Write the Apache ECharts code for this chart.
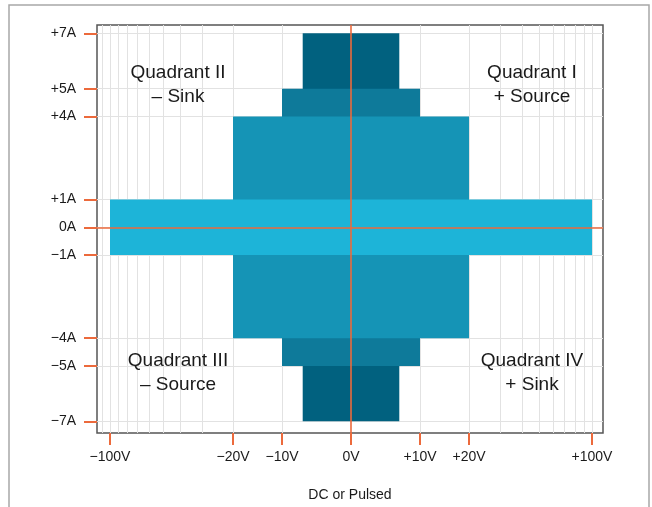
<!DOCTYPE html>
<html><head><meta charset="utf-8">
<script src="https://cdn.jsdelivr.net/npm/echarts@6/dist/echarts.min.js"></script>
<style>html,body{margin:0;padding:0;background:#fff}#c{width:652px;height:507px}</style>
</head><body><div id="c"></div>
<script>
// ---- data ----
const xTickVolts = [-100, -20, -10, 0, 10, 20, 100];
const xTickLabels = ['−100V', '−20V', '−10V', '0V', '+10V', '+20V', '+100V'];
const yTickAmps = [7, 5, 4, 1, 0, -1, -4, -5, -7];
const yTickLabels = ['+7A', '+5A', '+4A', '+1A', '0A', '−1A', '−4A', '−5A', '−7A'];
const xGridVolts = [-110, -100, -90, -80, -70, -60, -50, -40, -30, -20, -10, 10, 20, 30, 40, 50, 60, 70, 80, 90, 100];
const tierVolts = [7, 10, 20, 100];
const tierAmps = [7, 5, 4, 1];
const quadrantTexts = ['Quadrant II\n– Sink', 'Quadrant I\n+ Source', 'Quadrant III\n– Source', 'Quadrant IV\n+ Sink'];

// ---- styles / scale definition ----
const tierColors = ['#01617f', '#0e7a9a', '#1594b6', '#1db4d8'];
const ORANGE = '#ec6a3c';
const GRIDC = '#e2e2e2';
const FONT = '"Liberation Sans", Arial, Helvetica, sans-serif';
// piecewise scale of the voltage axis: linear 0..10 V, logarithmic above
function vpos(v) {
  const s = Math.sign(v), a = Math.abs(v);
  let p;
  if (a <= 10) p = a * 6.9;
  else if (a <= 20) p = 69 + Math.log(a / 10) / Math.log(2) * 49;
  else p = 118 + Math.log(a / 20) / Math.log(5) * 123;
  return s * p;
}
const xTickPos = xTickVolts.map(vpos);
function labelFor(val, pos, labels) {
  for (let i = 0; i < pos.length; i++) if (Math.abs(pos[i] - val) < 0.01) return labels[i];
  return '';
}

const chart = echarts.init(document.getElementById('c'));
chart.setOption({
  animation: false,
  grid: { left: 97, right: 49, top: 25, bottom: 74, show: true, borderColor: '#555', borderWidth: 1.5, containLabel: false },
  xAxis: {
    type: 'value', min: -254, max: 252,
    axisLine: { show: false, onZero: false },
    splitLine: { show: false },
    axisTick: { show: true, customValues: xTickPos, length: 12, lineStyle: { color: ORANGE, width: 2 } },
    axisLabel: { customValues: xTickPos, margin: 17, fontSize: 14, fontFamily: FONT, color: '#1a1a1a',
      formatter: v => labelFor(v, xTickPos, xTickLabels) },
    name: 'DC or Pulsed', nameLocation: 'middle', nameGap: 55,
    nameTextStyle: { fontSize: 14, fontFamily: FONT, color: '#1a1a1a' }
  },
  yAxis: {
    type: 'value', min: -7.42, max: 7.30, splitNumber: 15,
    axisLine: { show: false, onZero: false },
    splitLine: { show: true, lineStyle: { color: GRIDC, width: 1 } },
    axisTick: { show: true, customValues: yTickAmps, length: 13, lineStyle: { color: ORANGE, width: 2 } },
    axisLabel: { customValues: yTickAmps, margin: 21, fontSize: 14, fontFamily: FONT, color: '#1a1a1a',
      formatter: v => labelFor(v, yTickAmps, yTickLabels) }
  },
  series: [
    {
      type: 'line', data: [], z: 1, silent: true,
      markLine: {
        z: 1, silent: true, symbol: 'none', animation: false,
        label: { show: false },
        lineStyle: { color: GRIDC, width: 1, type: 'solid' },
        emphasis: { disabled: true },
        data: xGridVolts.map(v => ({ xAxis: vpos(v) }))
      }
    },
    {
      type: 'custom', z: 3, silent: true,
      data: tierVolts.map((v, i) => [vpos(v), tierAmps[i]]),
      renderItem: function (params, api) {
        const x = api.value(0), a = api.value(1);
        const p0 = api.coord([-x, a]);
        const p1 = api.coord([x, -a]);
        return { type: 'rect', shape: { x: p0[0], y: p0[1], width: p1[0] - p0[0], height: p1[1] - p0[1] },
          style: { fill: tierColors[params.dataIndex] } };
      },
      markLine: {
        z: 10, silent: true, symbol: 'none', animation: false,
        label: { show: false },
        lineStyle: { color: ORANGE, width: 1.6, type: 'solid' },
        emphasis: { disabled: true },
        data: [{ xAxis: 0 }, { yAxis: 0 }]
      }
    }
  ],
  graphic: [
    { type: 'rect', silent: true, z: -1, shape: { x: 9, y: 5, width: 640, height: 540 },
      style: { fill: 'none', stroke: '#a8a8a8', lineWidth: 1.5 } },
    { type: 'text', x: 178, y: 84.5, z: 20, style: { text: quadrantTexts[0], align: 'center', verticalAlign: 'middle', fontSize: 19, fontFamily: FONT, lineHeight: 24, fill: '#1a1a1a' } },
    { type: 'text', x: 532, y: 84.5, z: 20, style: { text: quadrantTexts[1], align: 'center', verticalAlign: 'middle', fontSize: 19, fontFamily: FONT, lineHeight: 24, fill: '#1a1a1a' } },
    { type: 'text', x: 178, y: 373, z: 20, style: { text: quadrantTexts[2], align: 'center', verticalAlign: 'middle', fontSize: 19, fontFamily: FONT, lineHeight: 24, fill: '#1a1a1a' } },
    { type: 'text', x: 532, y: 373, z: 20, style: { text: quadrantTexts[3], align: 'center', verticalAlign: 'middle', fontSize: 19, fontFamily: FONT, lineHeight: 24, fill: '#1a1a1a' } }
  ]
});
</script></body></html>
